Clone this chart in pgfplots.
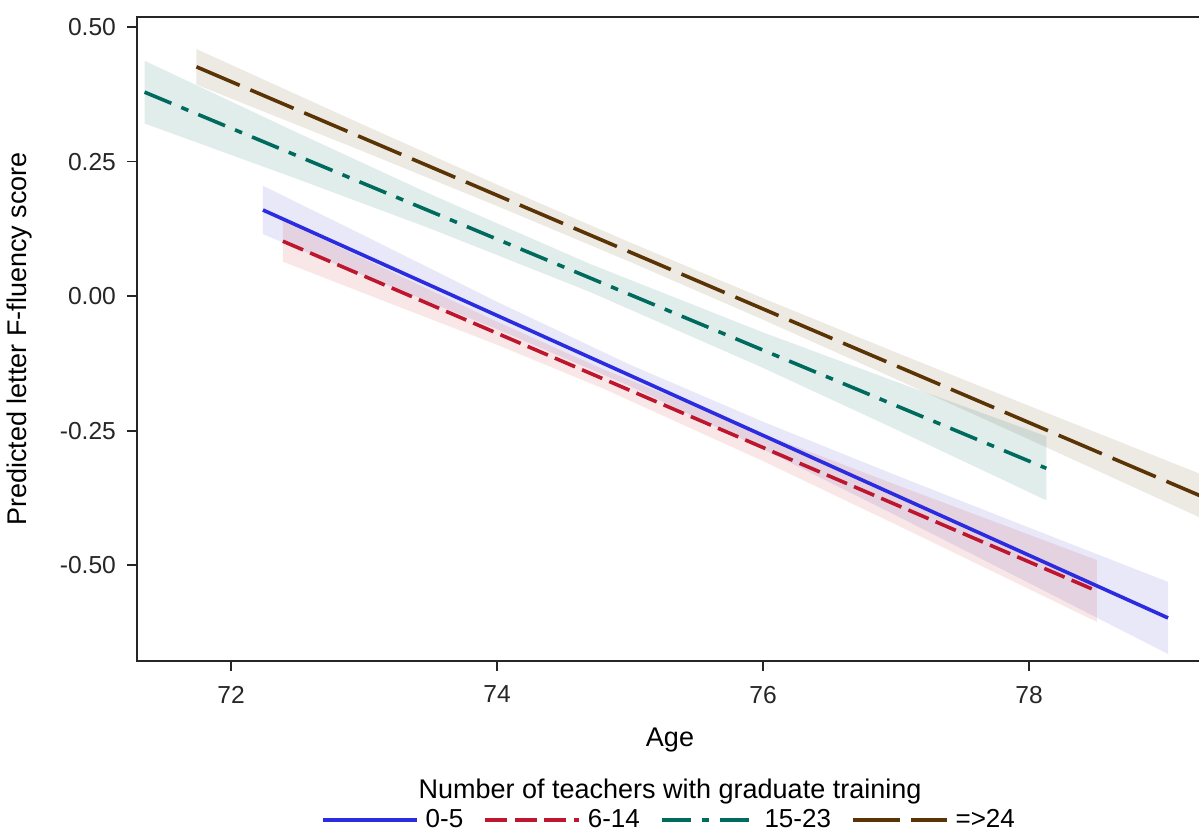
\documentclass[border=0pt]{standalone}
\usepackage{fontspec}
\setmainfont{Liberation Sans}
\usepackage{pgfplots}
\pgfplotsset{compat=1.18}
\usetikzlibrary{calc}

\definecolor{cblue}{RGB}{43,43,224}
\definecolor{cred}{RGB}{190,22,46}
\definecolor{cteal}{RGB}{0,106,94}
\definecolor{cbrown}{RGB}{90,52,4}

\begin{document}
\begin{tikzpicture}
\begin{axis}[
  name=ax, at={(0,0)}, anchor=south west,
  width=533pt, height=322pt, scale only axis,
  xmin=71.293, xmax=79.308, ymin=-0.678, ymax=0.5186,
  axis line style={black!85, line width=0.9pt},
  xtick={72,74,76,78}, xticklabels={72,74,76,78},
  ytick={-0.5,-0.25,0,0.25,0.5}, yticklabels={-0.50,-0.25,0.00,0.25,0.50},
  tick align=outside, tick pos=left,
  major tick length=5pt,
  tick style={black!85, line width=0.9pt},
  tick label style={font=\fontsize{12.3}{14}\selectfont, black!85},
  xticklabel style={yshift=-4pt},
  yticklabel style={xshift=-2pt},
  xlabel={Age}, ylabel={Predicted letter F-fluency score},
  label style={font=\fontsize{13.5}{16}\selectfont},
  xlabel style={at={(axis description cs:0.5,-0.1227)}, anchor=center},
  ylabel style={at={(axis description cs:-0.1098,0.5)}, anchor=center, rotate=0},
  legend style={at={(axis description cs:0.5,-0.247)}, anchor=center, draw=none,
    font=\fontsize{13}{16}\selectfont, legend columns=4,
    /tikz/every even column/.append style={column sep=8pt},
    /tikz/every odd column/.append style={column sep=1.5pt}},
  legend image code/.code={\draw[#1] (0pt,0pt) -- (47pt,0pt);},
  clip=true,
]
% confidence bands
\addplot[draw=none, fill=cbrown, fill opacity=0.11, forget plot] coordinates {
  (71.74,0.459) (73,0.3176) (74,0.2072) (75,0.0997) (76,-0.0040) (77,-0.1048) (78,-0.2039) (79.4,-0.3414)
  (79.4,-0.4244) (78,-0.2663) (77,-0.1542) (76,-0.0438) (75,0.0637) (74,0.1674) (73,0.2682) (71.74,0.393)
} -- cycle;
\addplot[draw=none, fill=cteal, fill opacity=0.12, forget plot] coordinates {
  (71.35,0.4373) (72.5,0.3034) (73.5,0.1893) (74.7,0.0596) (76,-0.0674) (77,-0.1592) (78.13,-0.2605)
  (78.13,-0.3795) (77,-0.2478) (76,-0.1334) (74.7,0.0076) (73.5,0.1253) (72.5,0.2174) (71.35,0.3207)
} -- cycle;
\addplot[draw=none, fill=cblue!75!gray, fill opacity=0.12, forget plot] coordinates {
  (72.24,0.205) (73,0.1127) (74,-0.0106) (75,-0.1275) (76,-0.2334) (77,-0.3329) (78,-0.4302) (79.045,-0.531)
  (79.045,-0.665) (78,-0.5332) (77,-0.4077) (76,-0.2844) (75,-0.1675) (74,-0.0616) (73,0.0379) (72.24,0.115)
} -- cycle;
\addplot[draw=none, fill=cred!85!orange, fill opacity=0.11, forget plot] coordinates {
  (72.39,0.140) (73,0.0692) (74,-0.0475) (74.8,-0.136) (76,-0.2562) (77,-0.3506) (78.51,-0.4905)
  (78.51,-0.6055) (77,-0.4246) (76,-0.3066) (74.8,-0.172) (74,-0.0905) (73,0.0052) (72.39,0.064)
} -- cycle;
% predicted lines
\addplot[cblue, line width=1.8pt] coordinates {(72.24,0.160) (79.045,-0.598)};
\addlegendentry{0-5}
\addplot[cred, line width=1.8pt, dash pattern=on 11pt off 3.8pt] coordinates {(72.39,0.102) (78.51,-0.548)};
\addlegendentry{6-14}
\addplot[cteal, line width=1.8pt, dash pattern=on 14.5pt off 5.4pt on 3.8pt off 5.4pt] coordinates {(71.35,0.379) (78.13,-0.320)};
\addlegendentry{15-23}
\addplot[cbrown, line width=1.8pt, dash pattern=on 23.5pt off 5.8pt] coordinates {(71.74,0.426) (79.4,-0.3829)};
\addlegendentry{=>24}
\end{axis}
\node[font=\fontsize{13.5}{16}\selectfont] at ($(ax.south west)!0.5!(ax.south east)+(0,-65.5pt)$) {Number of teachers with graduate training};
\pgfresetboundingbox
\path ([shift={(-68.5pt,-85.5pt)}]ax.south west) rectangle ([shift={(-2pt,8.5pt)}]ax.north east);
\end{tikzpicture}
\end{document}
